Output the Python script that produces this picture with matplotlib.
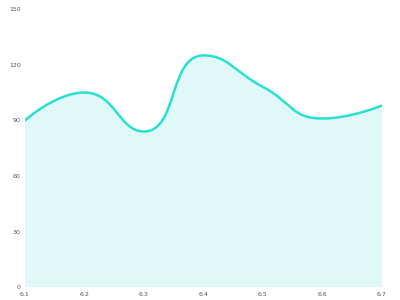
import numpy as np
import matplotlib
matplotlib.use('Agg')
import matplotlib.pyplot as plt
from matplotlib.path import Path
from matplotlib.patches import PathPatch

# data
days = ['6.1', '6.2', '6.3', '6.4', '6.5', '6.6', '6.7']
values = [90, 105, 84, 125, 108, 91, 98]
yticks = [0, 30, 60, 90, 120, 150]

line_color = '#28e0d0'
fill_color = '#e0f9f8'

fig = plt.figure(figsize=(4, 3), dpi=100)
ax = fig.add_axes([0.0625, 0.042, 0.8925, 0.928])
ax.set_xlim(0, len(days) - 1)
ax.set_ylim(0, 150)


def clamp(v, a, b):
    return min(max(v, min(a, b)), max(a, b))


# smooth curve like a charting lib: bezier control points worked out in pixel-ish units,
# kept between neighbouring points so peaks stay on the data
sx, sy = 59.5, 1.856
px = np.arange(len(values)) * sx
py = np.array(values, dtype=float) * sy
n = len(values)
smooth = 0.5
cp_out = []
cp_in = []
for i in range(n):
    x, y = px[i], py[i]
    if i == 0 or i == n - 1:
        cp_out.append((x, y))
        cp_in.append((x, y))
        continue
    prx, pry = px[i - 1], py[i - 1]
    nx, ny = px[i + 1], py[i + 1]
    vx, vy = nx - prx, ny - pry
    d0 = np.hypot(x - prx, y - pry)
    d1 = np.hypot(nx - x, ny - y)
    r = d1 / (d0 + d1)
    ncx = clamp(x + vx * smooth * r, nx, x)
    ncy = clamp(y + vy * smooth * r, ny, y)
    vx, vy = ncx - x, ncy - y
    cx = clamp(x - vx * d0 / d1, prx, x)
    cy = clamp(y - vy * d0 / d1, pry, y)
    vx, vy = x - cx, y - cy
    ncx = x + vx * d1 / d0
    ncy = y + vy * d1 / d0
    cp_out.append((ncx, ncy))
    cp_in.append((cx, cy))

verts = [(px[0] / sx, py[0] / sy)]
codes = [Path.MOVETO]
for i in range(n - 1):
    verts += [(cp_out[i][0] / sx, cp_out[i][1] / sy),
              (cp_in[i + 1][0] / sx, cp_in[i + 1][1] / sy),
              (px[i + 1] / sx, py[i + 1] / sy)]
    codes += [Path.CURVE4] * 3

fill_verts = verts + [(n - 1, 0), (0, 0), (0, 0)]
fill_codes = codes + [Path.LINETO, Path.LINETO, Path.CLOSEPOLY]
ax.add_patch(PathPatch(Path(fill_verts, fill_codes), facecolor=fill_color, edgecolor='none'))
ax.add_patch(PathPatch(Path(verts, codes), facecolor='none', edgecolor=line_color,
                       linewidth=1.8, capstyle='round', joinstyle='round'))

ax.set_xticks(range(len(days)))
ax.set_xticklabels(days)
ax.set_yticks(yticks)
ax.tick_params(length=0, labelsize=4.5, labelcolor='#555555', pad=3)
for s in ax.spines.values():
    s.set_visible(False)

fig.savefig('out.png', dpi=100)
